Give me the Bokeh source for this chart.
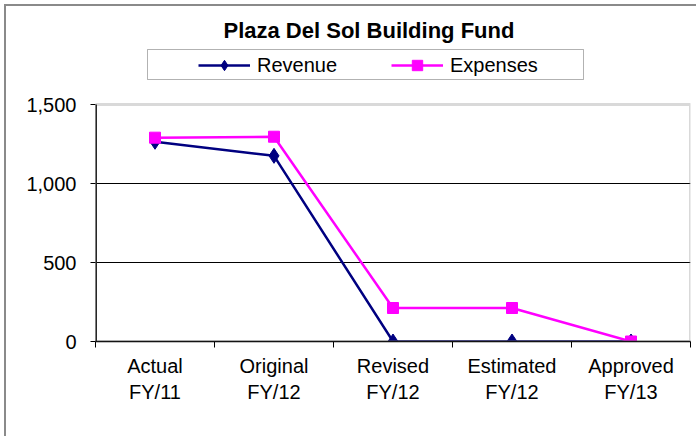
from bokeh.plotting import figure
from bokeh.models import (Range1d, FixedTicker, NumeralTickFormatter, Legend, LegendItem, BoxAnnotation)
from bokeh.embed import file_html
from bokeh.resources import INLINE

categories = ["Actual\nFY/11", "Original\nFY/12", "Revised\nFY/12", "Estimated\nFY/12", "Approved\nFY/13"]
revenue = [1264, 1175, 0, 0, 0]
expenses = [1290, 1296, 212, 212, 0]
y_ticks = [0, 500, 1000, 1500]
title_text = "Plaza Del Sol Building Fund"

FONT = "Liberation Sans"
xs = [i + 0.5 for i in range(len(categories))]
n = len(categories)

# layout (pixels): the value axis spans 237 px; the frame (595 x 294 px) is
# extended upward so the legend box can sit inside it
AXIS_PX = 237
FRAME_W = 595
FRAME_PX = 294
y_top = y_ticks[-1] * FRAME_PX / AXIS_PX
px_x = n / FRAME_W
px_y = y_ticks[-1] / AXIS_PX

p = figure(width=692, height=432, output_backend="svg", toolbar_location=None,
           x_range=Range1d(0, n), y_range=Range1d(0, y_top),
           min_border_left=89, min_border_right=8, min_border_bottom=97, min_border_top=41,
           styles={"margin-left": "4px", "margin-top": "4px",
                   "border-left": "2px solid #8a8a8a", "border-top": "2px solid #8a8a8a"})

p.title.text = title_text
p.title.text_font = FONT
p.title.text_font_size = "22px"
p.title.text_font_style = "bold"
p.title.text_color = "black"
p.title.align = "left"
p.title.offset = 128

p.outline_line_color = None

# y axis
p.yaxis.ticker = FixedTicker(ticks=y_ticks)
p.yaxis.formatter = NumeralTickFormatter(format="0,0")
p.yaxis.major_label_text_font = FONT
p.yaxis.major_label_text_font_size = "20px"
p.yaxis.major_label_text_color = "black"
p.yaxis.major_tick_out = 5
p.yaxis.major_tick_in = 0
p.yaxis.major_tick_line_color = "black"
p.yaxis.minor_tick_line_color = None
p.yaxis.major_label_standoff = 14
p.yaxis.axis_line_color = None

# x axis
p.xaxis.ticker = FixedTicker(ticks=xs, minor_ticks=list(range(n + 1)))
p.xaxis.major_label_overrides = {x: c for x, c in zip(xs, categories)}
p.xaxis.major_label_text_font = FONT
p.xaxis.major_label_text_font_size = "20px"
p.xaxis.major_label_text_color = "black"
p.xaxis.major_tick_line_color = None
p.xaxis.major_tick_out = 0
p.xaxis.major_tick_in = 0
p.xaxis.minor_tick_out = 6
p.xaxis.minor_tick_in = 0
p.xaxis.minor_tick_line_color = "black"
p.xaxis.major_label_standoff = 7
p.xaxis.axis_line_color = "black"
p.xaxis.axis_line_width = 1.5

p.xgrid.visible = False
p.ygrid.ticker = FixedTicker(ticks=y_ticks[1:-1])
p.ygrid.grid_line_color = "black"
p.ygrid.grid_line_width = 1

# plot-area border (gray) and value axis line (black)
p.add_layout(BoxAnnotation(left=0, right=n, bottom=0, top=y_ticks[-1],
                           fill_alpha=0, line_color="#808080", line_width=3))
p.segment(x0=[0], y0=[0], x1=[0], y1=[y_ticks[-1]], line_color="black", line_width=3)

rl = p.line(xs, revenue, line_color="#000080", line_width=2.5)
rm = p.scatter(xs, revenue, marker="diamond", size=15, fill_color="#000080", line_color="#000080")
el = p.line(xs, expenses, line_color="#FF00FF", line_width=2.5)
em = p.scatter(xs, expenses, marker="square", size=11, fill_color="#FF00FF", line_color="#FF00FF")

# legend frame box (pixel layout: 52..488 px from the left, 262..292 px above the axis)
p.add_layout(BoxAnnotation(left=52 * px_x, right=488 * px_x, bottom=262 * px_y, top=292 * px_y,
                           fill_color="white", fill_alpha=1, line_color="black", line_width=1))

legend = Legend(items=[LegendItem(label="Revenue", renderers=[rl, rm]),
                       LegendItem(label="Expenses", renderers=[el, em])],
                orientation="horizontal", location=(103, 263))
legend.label_text_font = FONT
legend.label_text_font_size = "20px"
legend.label_text_color = "black"
legend.glyph_width = 52
legend.glyph_height = 26
legend.label_height = 20
legend.label_width = 84
legend.label_standoff = 7
legend.spacing = 50
legend.padding = 0
legend.margin = 0
legend.border_line_color = None
legend.background_fill_alpha = 0
p.add_layout(legend, "center")

open("out.html", "w").write(file_html(p, INLINE))
